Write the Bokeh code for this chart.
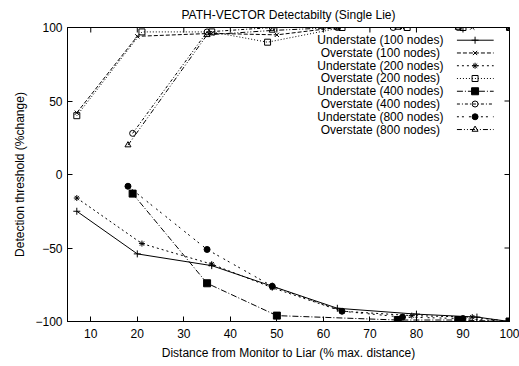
from bokeh.plotting import figure
from bokeh.models import Range1d, FixedTicker, Label
from bokeh.embed import file_html
from bokeh.resources import INLINE

# ---- data ----
under100_x = [7, 20, 36, 49, 63, 80, 93, 100]
under100_y = [-25, -54, -62, -76, -91, -95, -97, -100]
over100_x = [7, 20, 36, 50, 63, 77, 92, 100]
over100_y = [42, 94, 96, 95, 100, 100, 100, 100]
under200_x = [7, 21, 36, 49, 64, 79, 92, 100]
under200_y = [-16, -47, -61, -77, -93, -96, -97, -100]
over200_x = [7, 21, 36, 48, 64, 78, 90, 100]
over200_y = [40, 97, 97, 90, 100, 100, 100, 100]
under400_x = [19, 35, 50, 76, 89, 100]
under400_y = [-13, -74, -96, -99, -99, -100]
over400_x = [19, 35, 49, 63, 75, 89, 100]
over400_y = [28, 97, 100, 100, 100, 100, 100]
under800_x = [18, 35, 49, 64, 77, 90, 100]
under800_y = [-8, -51, -76, -93, -97, -98, -100]
over800_x = [18, 35, 49, 63, 76, 89, 100]
over800_y = [20, 95, 98, 100, 100, 100, 100]

labels = ["Understate (100 nodes)", "Overstate  (100 nodes)",
          "Understate (200 nodes)", "Overstate  (200 nodes)",
          "Understate (400 nodes)", "Overstate  (400 nodes)",
          "Understate (800 nodes)", "Overstate  (800 nodes)"]
x_ticks = [10, 20, 30, 40, 50, 60, 70, 80, 90, 100]
y_ticks = [-100, -50, 0, 50, 100]
X_MIN, X_MAX = 5, 100
Y_MIN, Y_MAX = -100, 100

FONT = "Liberation Sans"

series = [
    (under100_x, under100_y, "solid", "cross", False, 7),
    (over100_x, over100_y, "4 2", "x", False, 6),
    (under200_x, under200_y, "2 3", "asterisk", False, 6),
    (over200_x, over200_y, "1 2", "square", False, 6),
    (under400_x, under400_y, "6 2 1 2", "square", True, 7),
    (over400_x, over400_y, "3 2 1 2", "circle", False, 6),
    (under800_x, under800_y, "2 3 2 5", "circle", True, 6),
    (over800_x, over800_y, "5 2 1 2 1 2", "triangle", False, 6),
]

W, H = 519, 366
BL, BR, BT, BB = 67, 10, 27, 45
FW, FH = W - BL - BR, H - BT - BB

p = figure(width=W, height=H, x_range=Range1d(X_MIN, X_MAX), y_range=Range1d(Y_MIN, Y_MAX),
           output_backend="svg", toolbar_location=None,
           min_border_left=BL, min_border_right=BR, min_border_top=BT, min_border_bottom=BB,
           title="PATH-VECTOR Detectabilty (Single Lie)")
p.title.align = "center"
p.title.vertical_align = "top"
p.title.text_font = FONT
p.title.text_font_size = "12px"
p.title.text_font_style = "normal"
p.title.text_color = "black"
p.title.standoff = 8
p.xgrid.visible = False
p.ygrid.visible = False
p.outline_line_color = "black"
p.outline_line_width = 1
p.background_fill_color = "white"
p.border_fill_color = "white"

for ax, ticks in ((p.xaxis[0], x_ticks), (p.yaxis[0], y_ticks)):
    ax.ticker = FixedTicker(ticks=ticks)
    ax.major_tick_in = 5
    ax.major_tick_out = 0
    ax.minor_tick_line_color = None
    ax.axis_line_color = "black"
    ax.major_tick_line_color = "black"
    ax.major_label_text_font = FONT
    ax.major_label_text_font_size = "12px"
    ax.major_label_text_color = "black"
    ax.axis_label_text_font = FONT
    ax.axis_label_text_font_size = "12px"
    ax.axis_label_text_font_style = "normal"
    ax.axis_label_text_color = "black"

p.xaxis[0].axis_label = "Distance from Monitor to Liar (% max. distance)"
p.yaxis[0].axis_label = "Detection threshold (%change)"
p.xaxis[0].major_label_standoff = 7
p.xaxis[0].axis_label_standoff = 5
p.yaxis[0].major_label_standoff = 5
p.yaxis[0].axis_label_standoff = 5

# mirrored inward ticks on top and right edges (5 px long)
tx = 5 * (X_MAX - X_MIN) / FW
ty = 5 * (Y_MAX - Y_MIN) / FH
p.segment(x0=x_ticks, y0=[Y_MAX] * len(x_ticks), x1=x_ticks, y1=[Y_MAX - ty] * len(x_ticks),
          line_color="black", line_width=1)
p.segment(x0=[X_MAX] * len(y_ticks), y0=y_ticks, x1=[X_MAX - tx] * len(y_ticks), y1=y_ticks,
          line_color="black", line_width=1)

for (xs, ys, dash, marker, filled, size) in series:
    p.line(xs, ys, line_color="black", line_width=1, line_dash=dash)
    p.scatter(xs, ys, marker=marker, size=size, line_color="black", line_width=1,
              fill_color="black" if filled else None)

# legend (gnuplot-style: label left, sample right) in data space
lx0, lx1, lxm, ltext = 88.7, 96.6, 92.6, 85.8
ly0, lstep = 91.35, 8.68
for i, (lab, (xs, ys, dash, marker, filled, size)) in enumerate(zip(labels, series)):
    yy = ly0 - i * lstep
    p.line([lx0, lx1], [yy, yy], line_color="black", line_width=1, line_dash=dash)
    p.scatter([lxm], [yy], marker=marker, size=size, line_color="black", line_width=1,
              fill_color="black" if filled else None)
    p.add_layout(Label(x=ltext, y=yy, text=lab, text_align="right", text_baseline="middle",
                       text_font=FONT, text_font_size="12px", text_color="black"))

open("out.html", "w").write(file_html(p, INLINE))
